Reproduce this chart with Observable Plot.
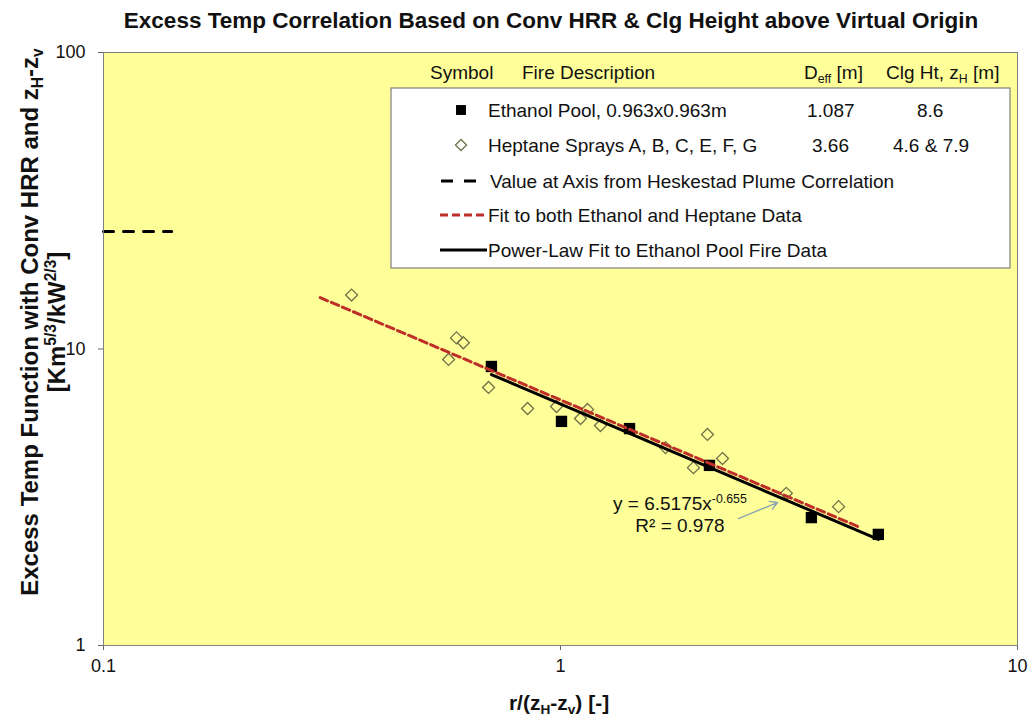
<!DOCTYPE html>
<html>
<head>
<meta charset="utf-8">
<script src="https://cdn.jsdelivr.net/npm/d3@7"></script>
<script src="https://cdn.jsdelivr.net/npm/@observablehq/plot@0.6"></script>
<style>
  html, body { margin: 0; padding: 0; background: #ffffff; }
  svg { font-family: "Liberation Sans", Arial, sans-serif; }
</style>
</head>
<body>
<div id="chart"></div>
<script>
// ---- data ----
const ethanolX = [0.706, 1.005, 1.416, 2.118, 3.54, 4.96];
const ethanolY = [8.73, 5.70, 5.39, 4.05, 2.70, 2.37];
const heptaneX = [0.349, 0.592, 0.613, 0.569, 0.696, 0.847, 0.980, 1.146, 1.106, 1.223, 1.697, 2.097, 1.954, 2.262, 3.12, 4.06];
const heptaneY = [15.2, 10.9, 10.5, 9.22, 7.42, 6.30, 6.40, 6.25, 5.83, 5.52, 4.65, 5.15, 3.98, 4.27, 3.26, 2.94];
const fitBothX = [0.298, 4.53];
const fitBothY = [14.9, 2.50];
const fitEthanolX = [0.706, 4.96];
const fitEthanolY = [8.2, 2.28];
const heskestadX = [0.1, 0.141];
const heskestadY = [24.9, 24.9];
const xTicks = [0.1, 1, 10];
const xTickLabels = ["0.1", "1", "10"];
const yTicks = [1, 10, 100];
const yTickLabels = ["1", "10", "100"];
const arrowFrom = [2.45, 2.68];
const arrowTo = [2.985, 3.035];
const eqnAt = [1.83, 3.01, 2.54]; // x, y of line 1, y of line 2
const titleText = "Excess Temp Correlation Based on Conv HRR & Clg Height above Virtual Origin";
const legendHeader = ["Symbol", "Fire Description"];
const legendRows = [
  {desc: "Ethanol Pool, 0.963x0.963m", deff: "1.087", clg: "8.6"},
  {desc: "Heptane Sprays A, B, C, E, F, G", deff: "3.66", clg: "4.6 & 7.9"},
  {desc: "Value at Axis from Heskestad Plume Correlation"},
  {desc: "Fit to both Ethanol and Heptane Data"},
  {desc: "Power-Law Fit to Ethanol Pool Fire Data"}
];

const zip = (xs, ys) => xs.map((x, i) => ({x, y: ys[i]}));

const RED = "#bf2f2a";
const DIAMOND = "#707048";

const chart = Plot.plot({
  width: 1028,
  height: 718,
  marginLeft: 103,
  marginRight: 11,
  marginTop: 52,
  marginBottom: 73,
  style: {fontFamily: "'Liberation Sans', Arial, sans-serif", fontSize: "18px", color: "#111", background: "#ffffff", overflow: "visible"},
  x: {type: "log", domain: [0.1, 10]},
  y: {type: "log", domain: [1, 100]},
  marks: [
    Plot.frame({fill: "#ffff99", stroke: null}),
    Plot.axisX(xTicks, {tickSize: 5, tickPadding: 9, stroke: "#666", tickFormat: d => xTickLabels[xTicks.indexOf(d)], label: null, fontSize: 18}),
    Plot.axisY(yTicks, {tickSize: 5, tickPadding: 13, stroke: "#666", tickFormat: d => yTickLabels[yTicks.indexOf(d)], label: null, fontSize: 18}),
    Plot.line(zip(heskestadX, heskestadY), {x: "x", y: "y", stroke: "#000", strokeWidth: 3, strokeDasharray: "10 10"}),
    Plot.dot(zip(heptaneX, heptaneY), {x: "x", y: "y", symbol: "diamond2", r: 5.4, stroke: DIAMOND, strokeWidth: 1.3, fill: "none"}),
    Plot.dot(zip(ethanolX, ethanolY), {x: "x", y: "y", symbol: "square", r: 6.4, fill: "#000", stroke: null}),
    Plot.line(zip(fitEthanolX, fitEthanolY), {x: "x", y: "y", stroke: "#000", strokeWidth: 3}),
    Plot.line(zip(fitBothX, fitBothY), {x: "x", y: "y", stroke: RED, strokeWidth: 3, strokeDasharray: "8 4"}),
    Plot.arrow([{x1: arrowFrom[0], y1: arrowFrom[1], x2: arrowTo[0], y2: arrowTo[1]}], {x1: "x1", y1: "y1", x2: "x2", y2: "y2", bend: 0, stroke: "#8aa2b2", strokeWidth: 1.4, headLength: 9}),
    Plot.frame({stroke: "#808080", fill: "none"})
  ]
});
document.getElementById("chart").appendChild(chart);

const svg = d3.select(chart);
const X = chart.scale("x"), Y = chart.scale("y");

function addText(x, y, parts, opt = {}) {
  const size = opt.size || 19;
  const t = svg.append("text")
    .attr("transform", `translate(${x},${y}) rotate(${opt.rotate || 0})`)
    .attr("font-size", size)
    .attr("font-weight", opt.weight || "normal")
    .attr("text-anchor", opt.anchor || "start")
    .attr("fill", opt.fill || "#111")
    .attr("dy", "0.35em");
  const list = typeof parts === "string" ? [parts] : parts;
  for (const p of list) {
    if (typeof p === "string") t.append("tspan").text(p);
    else t.append("tspan").text(p.t)
      .attr("font-size", size * 0.65)
      .attr("baseline-shift", p.sub ? -size * 0.2 : size * 0.38);
  }
  return t;
}

// title
addText(551, 20, titleText, {size: 22.5, weight: "bold", anchor: "middle"});

// axis titles
addText(559, 703, ["r/(z", {t: "H", sub: true}, "-z", {t: "v", sub: true}, ") [-]"], {size: 21, weight: "bold", anchor: "middle"});
addText(30, 322, ["Excess Temp Function with Conv HRR and z", {t: "H", sub: true}, "-z", {t: "v", sub: true}], {size: 24, weight: "bold", anchor: "middle", rotate: -90});
addText(57, 322, ["[Km", {t: "5/3", sup: true}, "/kW", {t: "2/3", sup: true}, "]"], {size: 24, weight: "bold", anchor: "middle", rotate: -90});

// trendline equation
const ex = X.apply(eqnAt[0]);
addText(ex, Y.apply(eqnAt[1]), ["y = 6.5175x", {t: "-0.655", sup: true}], {size: 19, anchor: "middle"});
addText(ex, Y.apply(eqnAt[2]), "R² = 0.978", {size: 19, anchor: "middle"});

// legend
addText(430, 72, legendHeader[0]);
addText(522, 72, legendHeader[1]);
addText(804, 72, ["D", {t: "eff", sub: true}, " [m]"]);
addText(886, 72, ["Clg Ht, z", {t: "H", sub: true}, " [m]"]);

svg.append("rect").attr("x", 391).attr("y", 88).attr("width", 619).attr("height", 180)
  .attr("fill", "#ffffff").attr("stroke", "#7f7f7f").attr("stroke-width", 1.2);

const rowY = [110, 145, 181, 215, 250];
const symX = 461;
svg.append("path").attr("d", d3.symbol(d3.symbolSquare, Math.PI * 5.6 * 5.6)())
  .attr("transform", `translate(${symX},${rowY[0]})`).attr("fill", "#000");
svg.append("path").attr("d", d3.symbol(d3.symbolDiamond2, Math.PI * 5 * 5)())
  .attr("transform", `translate(${symX},${rowY[1]})`).attr("fill", "none").attr("stroke", DIAMOND).attr("stroke-width", 1.3);
svg.append("line").attr("x1", 441).attr("x2", 476).attr("y1", rowY[2]).attr("y2", rowY[2])
  .attr("stroke", "#000").attr("stroke-width", 3).attr("stroke-dasharray", "12 11");
svg.append("line").attr("x1", 440).attr("x2", 487).attr("y1", rowY[3]).attr("y2", rowY[3])
  .attr("stroke", RED).attr("stroke-width", 3).attr("stroke-dasharray", "8 4");
svg.append("line").attr("x1", 440).attr("x2", 487).attr("y1", rowY[4]).attr("y2", rowY[4])
  .attr("stroke", "#000").attr("stroke-width", 3);

const descX = [488, 488, 490, 488, 488];
legendRows.forEach((r, i) => {
  addText(descX[i], rowY[i], r.desc);
  if (r.deff) addText(i === 0 ? 807 : 812, rowY[i], r.deff);
  if (r.clg) addText(i === 0 ? 917 : 893, rowY[i], r.clg);
});
</script>
</body>
</html>
